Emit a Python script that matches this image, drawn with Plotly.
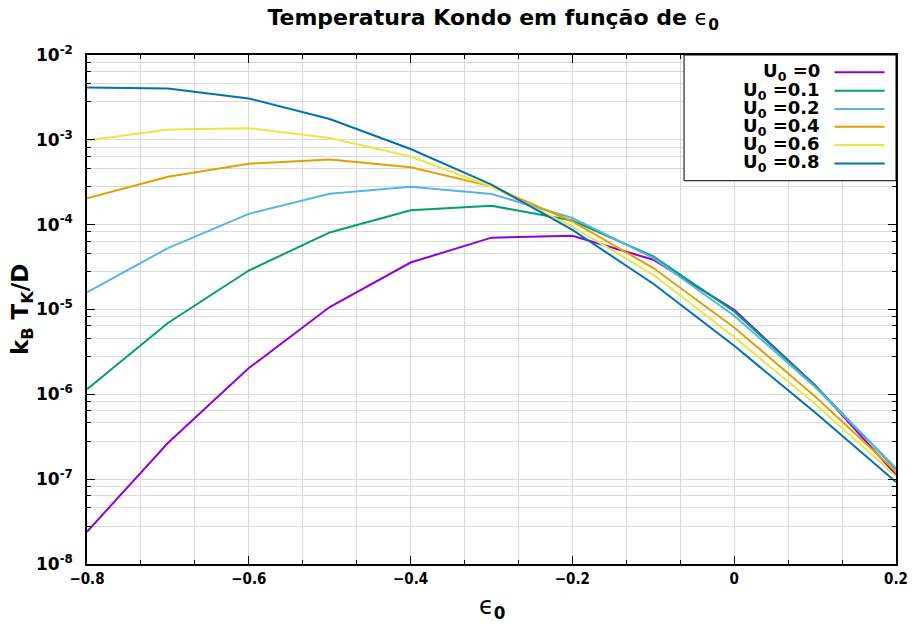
import plotly.graph_objects as go

# Kondo temperature k_B T_K / D versus the level energy eps_0, for several U_0
eps0 = [-0.8, -0.7, -0.6, -0.5, -0.4, -0.3, -0.2, -0.1, 0.0, 0.1, 0.2]

tk_u00 = [2.4e-8, 2.67e-7, 2.04e-6, 1.07e-5, 3.58e-5, 7.03e-5, 7.4e-5, 3.86e-5, 9.9e-6, 1.28e-6, 1.13e-7]
tk_u01 = [1.15e-6, 6.93e-6, 2.88e-5, 8.1e-5, 1.48e-4, 1.67e-4, 1.12e-4, 4.23e-5, 9.5e-6, 1.26e-6, 1.32e-7]
tk_u02 = [1.59e-5, 5.3e-5, 1.34e-4, 2.32e-4, 2.8e-4, 2.3e-4, 1.2e-4, 4.05e-5, 8.45e-6, 1.22e-6, 1.35e-7]
tk_u04 = [2.04e-4, 3.68e-4, 5.24e-4, 5.85e-4, 4.75e-4, 2.83e-4, 1.09e-4, 3.08e-5, 6.15e-6, 9.4e-7, 1.23e-7]
tk_u06 = [9.8e-4, 1.32e-3, 1.37e-3, 1.05e-3, 6.35e-4, 2.8e-4, 9.5e-5, 2.57e-5, 4.74e-6, 7.7e-7, 1.08e-7]
tk_u08 = [4.13e-3, 4.02e-3, 3.07e-3, 1.76e-3, 7.8e-4, 2.96e-4, 8.7e-5, 2.01e-5, 3.74e-6, 6.1e-7, 9.25e-8]

series = [tk_u00, tk_u01, tk_u02, tk_u04, tk_u06, tk_u08]
labels = ["U<sub>0</sub> =0", "U<sub>0</sub> =0.1", "U<sub>0</sub> =0.2",
          "U<sub>0</sub> =0.4", "U<sub>0</sub> =0.6", "U<sub>0</sub> =0.8"]
colors = ["#9400d3", "#009e73", "#56b4e9", "#e69f00", "#f0e442", "#0072b2"]

x_ticks = [-0.8, -0.6, -0.4, -0.2, 0.0, 0.2]
x_ticktext = ["\u22120.8", "\u22120.6", "\u22120.4", "\u22120.2", "0", "0.2"]
y_exponents = [-8, -7, -6, -5, -4, -3, -2]

FONT = "DejaVu Sans"
GRID = "#dadada"

fig = go.Figure()
for vals, lab, col in zip(series, labels, colors):
    fig.add_trace(go.Scatter(x=eps0, y=vals, mode="lines", name=lab,
                             line=dict(color=col, width=2), showlegend=False))

y_minor = [m * 10.0 ** e for e in y_exponents[:-1] for m in (2.8, 4.6, 6.4, 8.2)]

fig.update_layout(
    width=920, height=628,
    margin=dict(l=87, r=21, t=55, b=64),
    paper_bgcolor="white", plot_bgcolor="white",
    font=dict(family=FONT, color="black"),
    title=dict(text="<b>Temperatura Kondo em função de </b>\u03f5<sub><b>0</b></sub>",
               x=0.536, xanchor="center", y=0.972, yanchor="middle",
               font=dict(size=22, family=FONT)),
    xaxis=dict(range=[-0.8, 0.2], tickmode="array", tickvals=x_ticks, ticktext=x_ticktext,
               ticks="inside", ticklen=8, tickwidth=1, tickcolor="black",
               showline=True, linecolor="black", linewidth=1.5, mirror="allticks",
               showgrid=True, gridcolor=GRID, gridwidth=1, zeroline=False,
               tickfont=dict(size=15, family="DejaVu Sans Condensed, DejaVu Sans", weight="bold"),
               minor=dict(tick0=-0.8, dtick=0.2 / 3, ticks="inside", ticklen=4,
                          tickcolor="black", showgrid=True, gridcolor=GRID, gridwidth=1)),
    yaxis=dict(type="log", range=[-8, -2], tickmode="array",
               tickvals=[10.0 ** e for e in y_exponents],
               ticktext=["10<sup>%d</sup>" % e for e in y_exponents],
               ticks="inside", ticklen=8, tickwidth=1, tickcolor="black",
               showline=True, linecolor="black", linewidth=1.5, mirror="allticks",
               showgrid=True, gridcolor=GRID, gridwidth=1, zeroline=False,
               ticklabelstandoff=9,
               tickfont=dict(size=17, family=FONT, weight="bold"),
               minor=dict(tickmode="array", tickvals=y_minor, ticks="inside", ticklen=4,
                          tickcolor="black", showgrid=True, gridcolor=GRID, gridwidth=1)),
)

# axis titles
fig.add_annotation(text="<b>k<sub>B</sub> T<sub>K</sub>/D</b>", textangle=-90,
                   xref="paper", yref="paper", x=-0.081, y=0.5,
                   xanchor="center", yanchor="middle", showarrow=False,
                   font=dict(size=23, family=FONT))
fig.add_annotation(text="\u03f5<sub><b>0</b></sub>",
                   xref="paper", yref="paper", x=0.5, y=-0.085,
                   xanchor="center", yanchor="middle", showarrow=False,
                   font=dict(size=24, family=FONT))

# key box in the upper right corner, text to the left of each line sample
fig.add_shape(type="rect", xref="paper", yref="paper", x0=0.738, x1=1.0, y0=0.753, y1=1.0,
              line=dict(color="black", width=1), fillcolor="white", layer="above")
row_y = [0.966, 0.930, 0.894, 0.859, 0.823, 0.787]
for lab, col, ry in zip(labels, colors, row_y):
    fig.add_annotation(text="<b>%s</b>" % lab, xref="paper", yref="paper",
                       x=0.909, y=ry, xanchor="right", yanchor="middle", showarrow=False,
                       font=dict(size=18, family=FONT))
    fig.add_shape(type="line", xref="paper", yref="paper", x0=0.924, x1=0.986, y0=ry, y1=ry,
                  line=dict(color=col, width=2), layer="above")

fig.write_html("out.html")
